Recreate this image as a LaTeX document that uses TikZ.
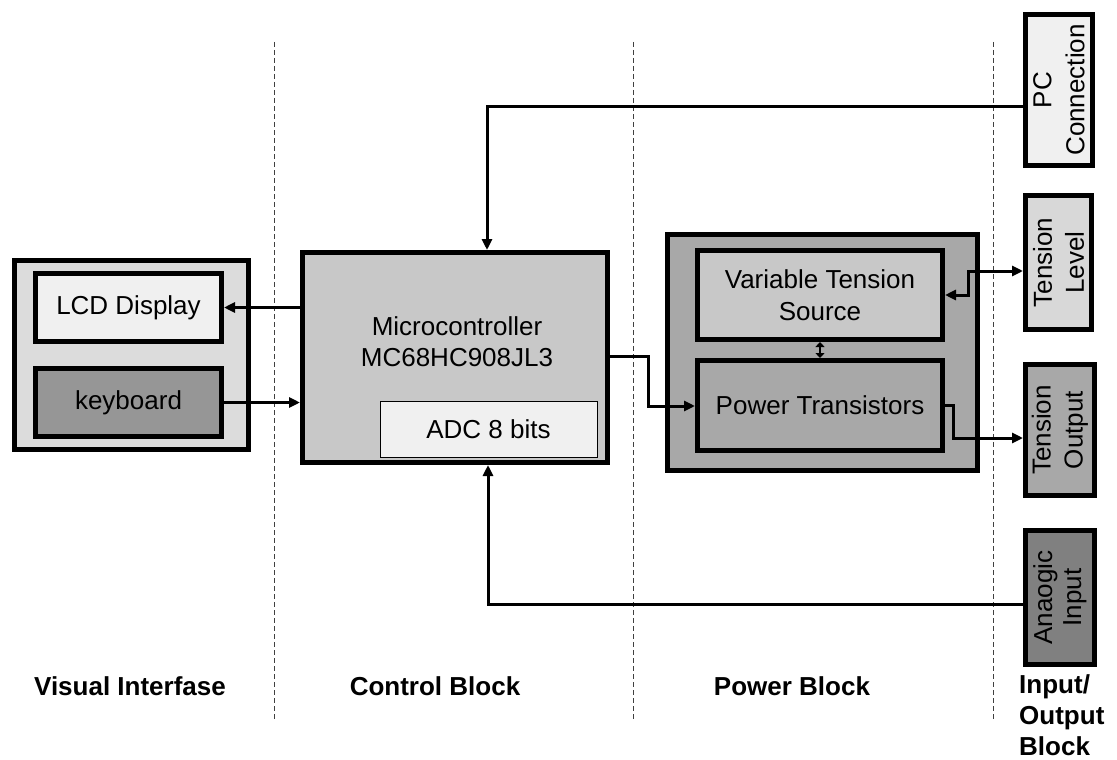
\documentclass[tikz,border=0pt]{standalone}
\usepackage{fontspec}
\setmainfont{Liberation Sans}
\usetikzlibrary{arrows.meta}
\definecolor{cVis}{HTML}{DCDCDC}
\definecolor{cLight}{HTML}{F0F0F0}
\definecolor{cKb}{HTML}{969696}
\definecolor{cMid}{HTML}{C8C8C8}
\definecolor{cPwr}{HTML}{A8A8A8}
\definecolor{cTL}{HTML}{D8D8D8}
\definecolor{cAI}{HTML}{808080}
\tikzset{
  box/.style={draw, line width=5pt, inner sep=0pt, align=center, font=\fontsize{26}{32}\selectfont},
  thinbox/.style={draw, line width=1pt, inner sep=0pt, align=center, font=\fontsize{26}{32}\selectfont},
  conn/.style={line width=3pt},
  arr/.style={conn, -{Triangle[length=11pt,width=10pt]}},
  darr/.style={conn, {Triangle[length=11pt,width=10pt]}-{Triangle[length=11pt,width=10pt]}},
  sarr/.style={line width=2.5pt, {Triangle[length=5pt,width=9pt]}-{Triangle[length=5pt,width=9pt]}},
  sep/.style={line width=0.9pt, dash pattern=on 5pt off 3pt, black!75},
  blabel/.style={font=\fontsize{26}{31}\selectfont\bfseries, align=left}
}
\begin{document}
\begin{tikzpicture}[x=1pt,y=-1pt]
\useasboundingbox[fill=white] (0,0) rectangle (1117,760);
% separators
\coordinate (s1t) at (274,42); \coordinate (s1b) at (274,720);
\coordinate (s2t) at (633,42); \coordinate (s2b) at (633,720);
\coordinate (s3t) at (993,42); \coordinate (s3b) at (993,720);
\draw[sep] (s1t) -- (s1b);
\draw[sep] (s2t) -- (s2b);
\draw[sep] (s3t) -- (s3b);
% visual interface
\node[box, fill=cVis, minimum width=234pt, minimum height=189pt] (vis) at (131.5,355) {};
\node[box, fill=cLight, minimum width=186pt, minimum height=68pt] (lcd) at (128.5,307.5) {LCD Display};
\node[box, fill=cKb, minimum width=186pt, minimum height=68pt] (kb) at (128.5,402.5) {keyboard};
% control
\node[box, fill=cMid, minimum width=305pt, minimum height=210pt] (micro) at (455,357.5) {};
\node[align=center, font=\fontsize{26}{31}\selectfont, inner sep=0pt] (mtext) at (457,342) {Microcontroller\\MC68HC908JL3};
\node[thinbox, fill=cLight, minimum width=217pt, minimum height=56pt] (adc) at (488.5,429.5) {ADC 8 bits};
% power
\node[box, fill=cPwr, minimum width=310pt, minimum height=236pt] (pwr) at (822.5,352.5) {};
\node[box, fill=cMid, minimum width=245pt, minimum height=89pt] (vts) at (820,295) {Variable Tension\\Source};
\node[box, fill=cPwr, minimum width=245pt, minimum height=90pt] (pt) at (820,405.5) {Power Transistors};
% io
\node[box, fill=cLight, minimum width=67pt, minimum height=151pt] (pc) at (1059,90) {};
\node[rotate=90, align=center, font=\fontsize{26}{33}\selectfont] at (pc.center) {PC\\Connection};
\node[box, fill=cTL, minimum width=66pt, minimum height=134pt] (tl) at (1058.5,262.5) {};
\node[rotate=90, align=center, font=\fontsize{26}{32}\selectfont] at (tl.center) {Tension\\Level};
\node[box, fill=cPwr, minimum width=69pt, minimum height=131pt] (to) at (1060,430) {};
\node[rotate=90, align=center, font=\fontsize{26}{32}\selectfont] at (to.center) {Tension\\Output};
\node[box, fill=cAI, minimum width=69pt, minimum height=134pt] (ai) at (1060,597.5) {};
\node[rotate=90, align=center, font=\fontsize{26}{29}\selectfont] at (ai.center) {Anaogic\\Input};
% bend points
\coordinate (pcb) at (487,106);
\coordinate (aib) at (488,604);
\coordinate (m1) at (648,356);
\coordinate (m2) at (648,406);
\coordinate (p1) at (953,405);
\coordinate (p2) at (953,438);
\coordinate (t1) at (968,271);
\coordinate (t2) at (968,295);
% connectors
\draw[arr] (micro.west |- lcd.east) -- (lcd.east);
\draw[arr] (kb.east) -- (kb.east -| micro.west);
\draw[arr] (pc.west |- pcb) -- (pcb) -- (micro.north -| pcb);
\draw[arr] (ai.west |- aib) -- (aib) -- (micro.south -| aib);
\draw[arr] (micro.east |- m1) -- (m1) -- (m2) -- (pt.west |- m2);
\draw[arr] (pt.east |- p1) -- (p1) -- (p2) -- (to.west |- p2);
\draw[darr] (tl.west |- t1) -- (t1) -- (t2) -- (vts.east |- t2);
\draw[sarr] (vts.south) -- (pt.north);
% labels
\node[blabel] (l1) at (130,686) {Visual Interfase};
\node[blabel] (l2) at (435,686) {Control Block};
\node[blabel] (l3) at (792,686) {Power Block};
\node[blabel, anchor=north west, inner sep=0pt] (l4) at (1019,674) {Input/\\Output\\Block};
\end{tikzpicture}
\end{document}
